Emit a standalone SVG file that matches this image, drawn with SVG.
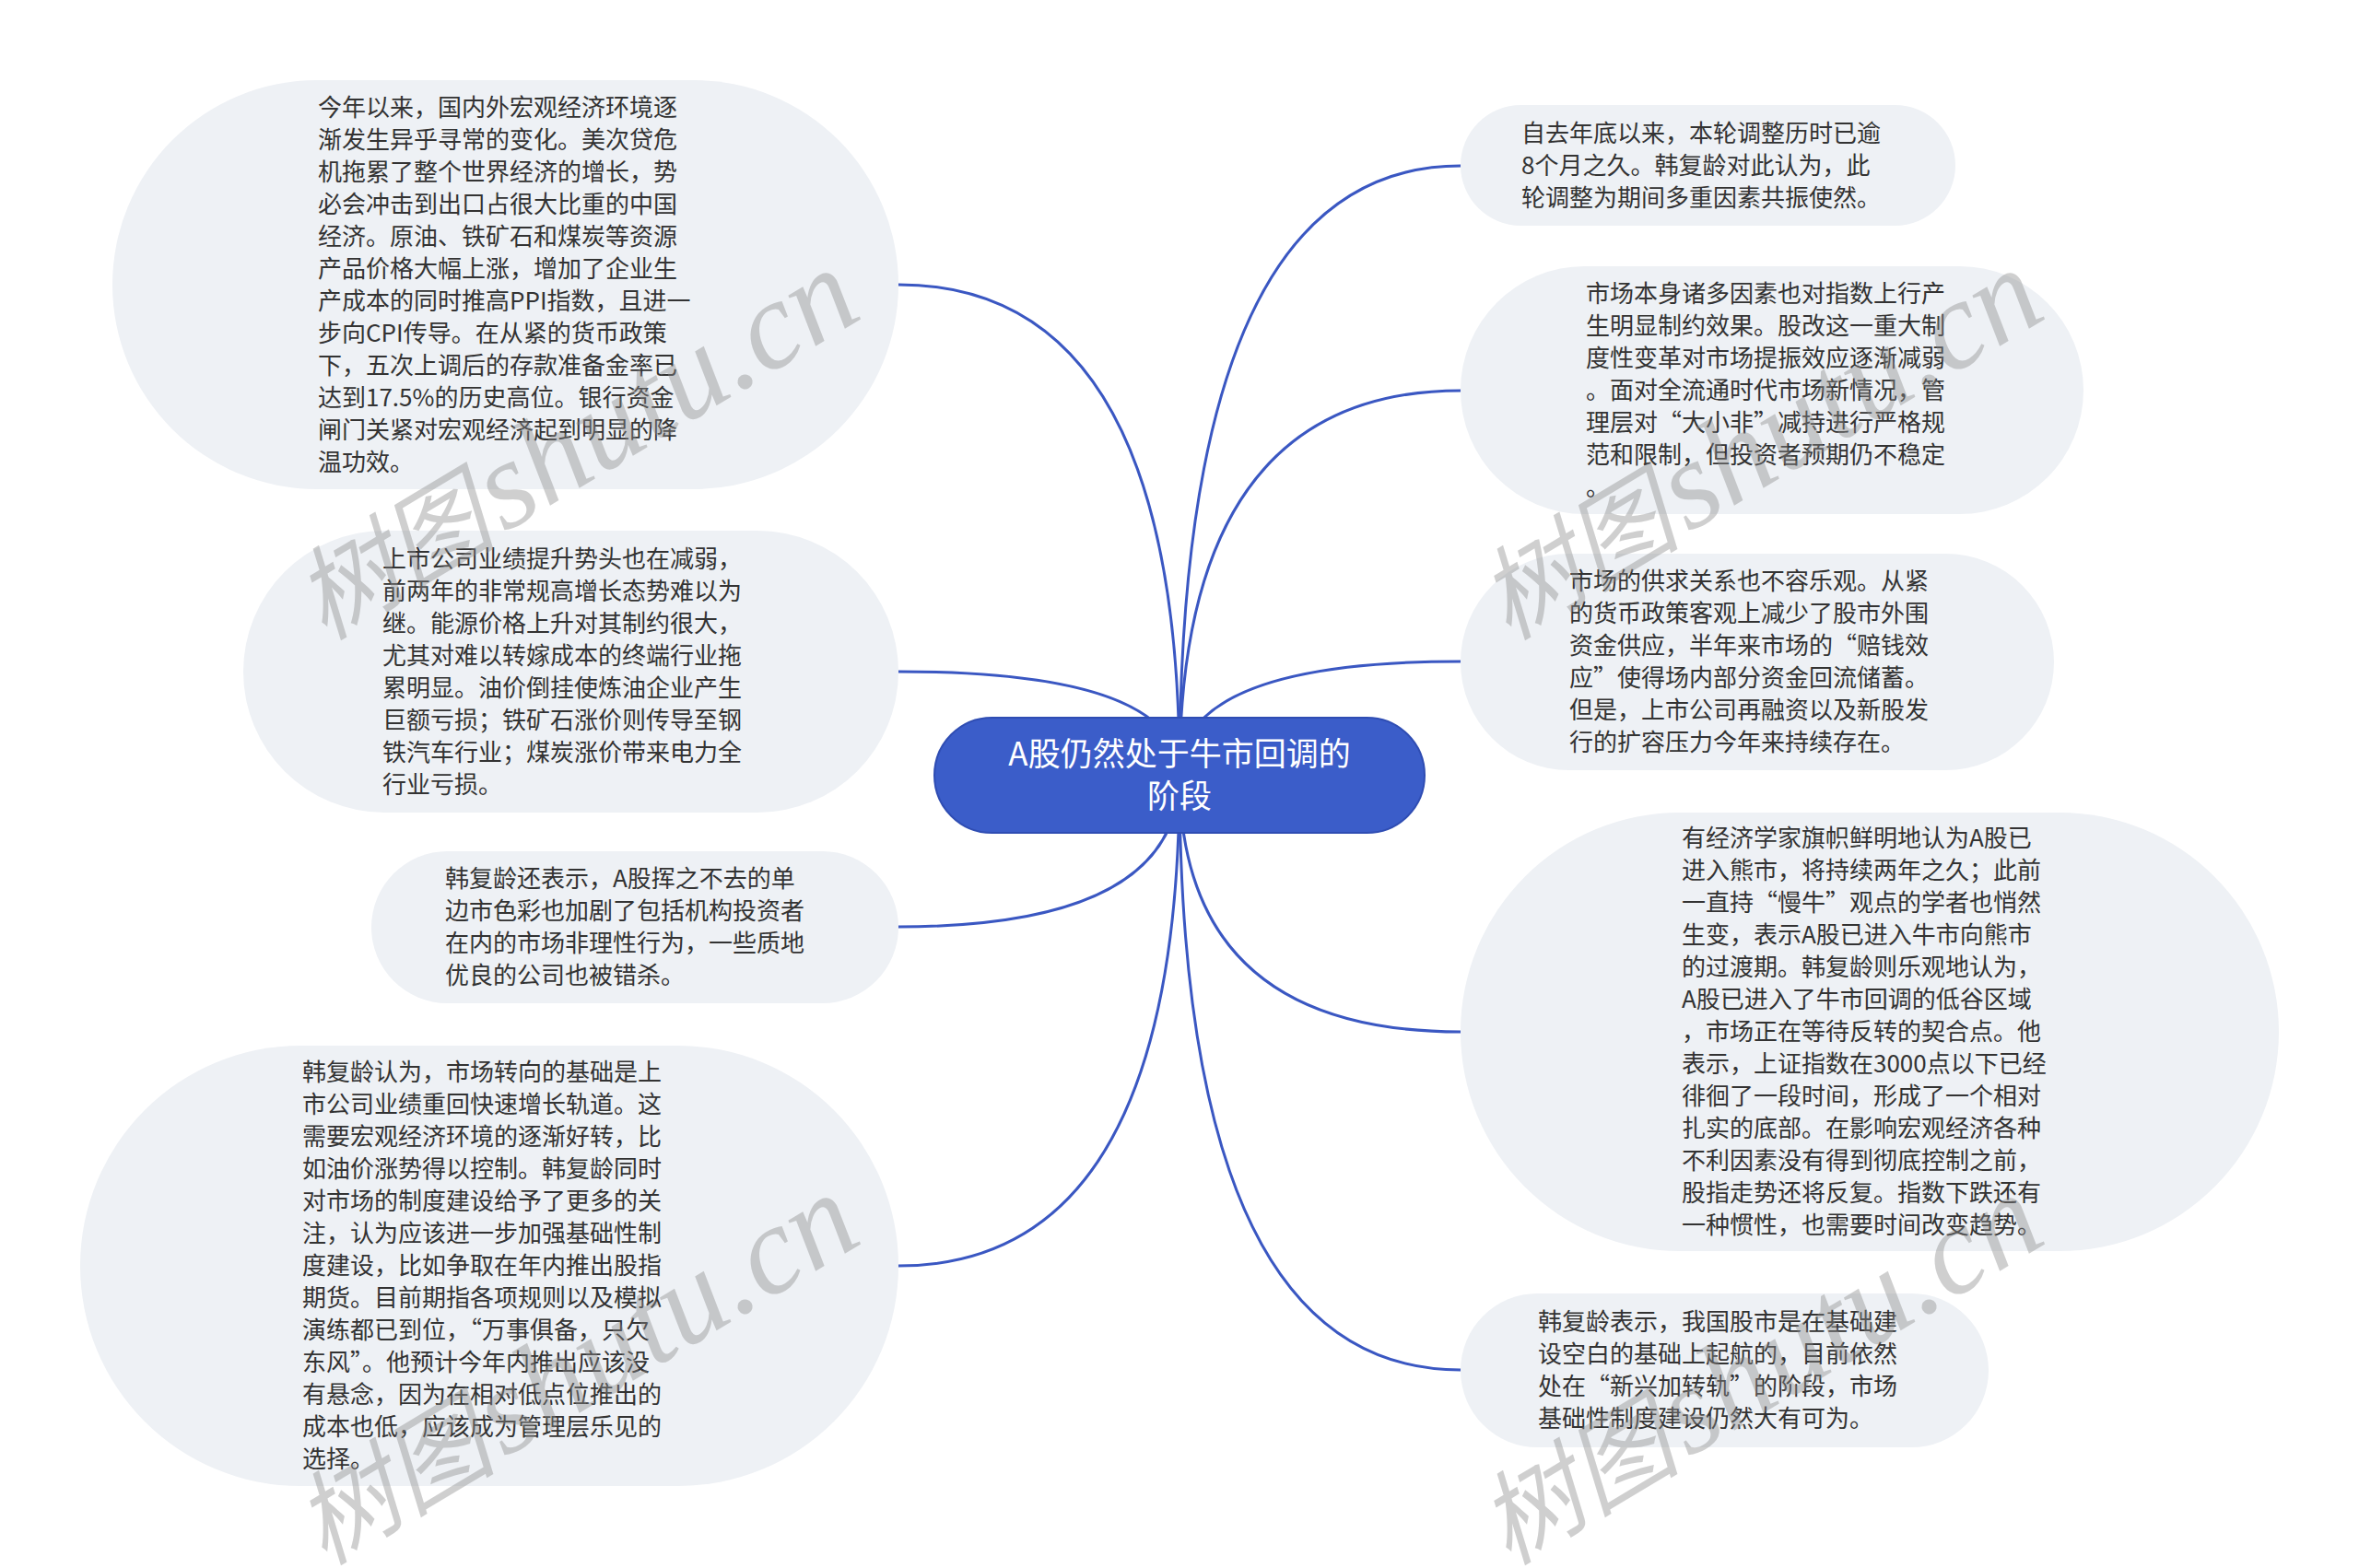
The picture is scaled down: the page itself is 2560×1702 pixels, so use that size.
<svg xmlns="http://www.w3.org/2000/svg" width="2560" height="1702" viewBox="0 0 2560 1702">
<style>
.bub{fill:#eef1f5;}
.txt{font-family:"Noto Sans CJK SC","Microsoft YaHei",sans-serif;font-size:26px;fill:#333333;}
.conn{fill:none;stroke:#3a57c2;stroke-width:3;}
.root{fill:#3b5dc9;stroke:#2f4db3;stroke-width:2;}
.rtxt{font-family:"Noto Sans CJK SC",sans-serif;font-size:35px;fill:#ffffff;text-anchor:middle;}
.wm{font-family:"Liberation Serif","Noto Sans CJK SC",serif;font-style:italic;font-size:110px;fill:#8a8a8a;opacity:0.4;}
.wml{font-size:136px;}
</style>
<rect x="0" y="0" width="2560" height="1702" fill="#ffffff"/>
<g id="connectors">
<path class="conn" d="M1280 841 Q1280 309 975 309"/>
<path class="conn" d="M1280 841 Q1280 729 975 729"/>
<path class="conn" d="M1280 841 Q1280 1006 975 1006"/>
<path class="conn" d="M1280 841 Q1280 1374 975 1374"/>
<path class="conn" d="M1280 841 Q1280 180 1585 180"/>
<path class="conn" d="M1280 841 Q1280 424 1585 424"/>
<path class="conn" d="M1280 841 Q1280 718 1585 718"/>
<path class="conn" d="M1280 841 Q1280 1120 1585 1120"/>
<path class="conn" d="M1280 841 Q1280 1487 1585 1487"/>
</g>
<g id="root">
<rect class="root" x="1014" y="779" width="532" height="125" rx="62.5"/>
<text class="rtxt" x="1280" y="831">A股仍然处于牛市回调的<tspan x="1280" dy="46">阶段</tspan></text>
</g>
<g id="L1">
<rect class="bub" x="122" y="87" width="853" height="444" rx="222"/>
<text class="txt" x="345" y="126"><tspan x="345">今年以来，国内外宏观经济环境逐</tspan><tspan x="345" dy="35">渐发生异乎寻常的变化。美次贷危</tspan><tspan x="345" dy="35">机拖累了整个世界经济的增长，势</tspan><tspan x="345" dy="35">必会冲击到出口占很大比重的中国</tspan><tspan x="345" dy="35">经济。原油、铁矿石和煤炭等资源</tspan><tspan x="345" dy="35">产品价格大幅上涨，增加了企业生</tspan><tspan x="345" dy="35">产成本的同时推高PPI指数，且进一</tspan><tspan x="345" dy="35">步向CPI传导。在从紧的货币政策</tspan><tspan x="345" dy="35">下，五次上调后的存款准备金率已</tspan><tspan x="345" dy="35">达到17.5%的历史高位。银行资金</tspan><tspan x="345" dy="35">闸门关紧对宏观经济起到明显的降</tspan><tspan x="345" dy="35">温功效。</tspan></text>
</g>
<g id="L2">
<rect class="bub" x="264" y="576" width="711" height="306" rx="153"/>
<text class="txt" x="415" y="616"><tspan x="415">上市公司业绩提升势头也在减弱，</tspan><tspan x="415" dy="35">前两年的非常规高增长态势难以为</tspan><tspan x="415" dy="35">继。能源价格上升对其制约很大，</tspan><tspan x="415" dy="35">尤其对难以转嫁成本的终端行业拖</tspan><tspan x="415" dy="35">累明显。油价倒挂使炼油企业产生</tspan><tspan x="415" dy="35">巨额亏损；铁矿石涨价则传导至钢</tspan><tspan x="415" dy="35">铁汽车行业；煤炭涨价带来电力全</tspan><tspan x="415" dy="35">行业亏损。</tspan></text>
</g>
<g id="L3">
<rect class="bub" x="403" y="924" width="572" height="165" rx="82.5"/>
<text class="txt" x="483" y="963"><tspan x="483">韩复龄还表示，A股挥之不去的单</tspan><tspan x="483" dy="35">边市色彩也加剧了包括机构投资者</tspan><tspan x="483" dy="35">在内的市场非理性行为，一些质地</tspan><tspan x="483" dy="35">优良的公司也被错杀。</tspan></text>
</g>
<g id="L4">
<rect class="bub" x="87" y="1135" width="888" height="478" rx="239"/>
<text class="txt" x="328" y="1173"><tspan x="328">韩复龄认为，市场转向的基础是上</tspan><tspan x="328" dy="35">市公司业绩重回快速增长轨道。这</tspan><tspan x="328" dy="35">需要宏观经济环境的逐渐好转，比</tspan><tspan x="328" dy="35">如油价涨势得以控制。韩复龄同时</tspan><tspan x="328" dy="35">对市场的制度建设给予了更多的关</tspan><tspan x="328" dy="35">注，认为应该进一步加强基础性制</tspan><tspan x="328" dy="35">度建设，比如争取在年内推出股指</tspan><tspan x="328" dy="35">期货。目前期指各项规则以及模拟</tspan><tspan x="328" dy="35">演练都已到位，“万事俱备，只欠</tspan><tspan x="328" dy="35">东风”。他预计今年内推出应该没</tspan><tspan x="328" dy="35">有悬念，因为在相对低点位推出的</tspan><tspan x="328" dy="35">成本也低，应该成为管理层乐见的</tspan><tspan x="328" dy="35">选择。</tspan></text>
</g>
<g id="R1">
<rect class="bub" x="1585" y="114" width="537" height="131" rx="65.5"/>
<text class="txt" x="1651" y="154"><tspan x="1651">自去年底以来，本轮调整历时已逾</tspan><tspan x="1651" dy="35">8个月之久。韩复龄对此认为，此</tspan><tspan x="1651" dy="35">轮调整为期间多重因素共振使然。</tspan></text>
</g>
<g id="R2">
<rect class="bub" x="1585" y="289" width="676" height="269" rx="134.5"/>
<text class="txt" x="1721" y="328"><tspan x="1721">市场本身诸多因素也对指数上行产</tspan><tspan x="1721" dy="35">生明显制约效果。股改这一重大制</tspan><tspan x="1721" dy="35">度性变革对市场提振效应逐渐减弱</tspan><tspan x="1721" dy="35">。面对全流通时代市场新情况，管</tspan><tspan x="1721" dy="35">理层对“大小非”减持进行严格规</tspan><tspan x="1721" dy="35">范和限制，但投资者预期仍不稳定</tspan><tspan x="1721" dy="35">。</tspan></text>
</g>
<g id="R3">
<rect class="bub" x="1585" y="601" width="644" height="235" rx="117.5"/>
<text class="txt" x="1703" y="640"><tspan x="1703">市场的供求关系也不容乐观。从紧</tspan><tspan x="1703" dy="35">的货币政策客观上减少了股市外围</tspan><tspan x="1703" dy="35">资金供应，半年来市场的“赔钱效</tspan><tspan x="1703" dy="35">应”使得场内部分资金回流储蓄。</tspan><tspan x="1703" dy="35">但是，上市公司再融资以及新股发</tspan><tspan x="1703" dy="35">行的扩容压力今年来持续存在。</tspan></text>
</g>
<g id="R4">
<rect class="bub" x="1585" y="882" width="888" height="476" rx="238"/>
<text class="txt" x="1825" y="919"><tspan x="1825">有经济学家旗帜鲜明地认为A股已</tspan><tspan x="1825" dy="35">进入熊市，将持续两年之久；此前</tspan><tspan x="1825" dy="35">一直持“慢牛”观点的学者也悄然</tspan><tspan x="1825" dy="35">生变，表示A股已进入牛市向熊市</tspan><tspan x="1825" dy="35">的过渡期。韩复龄则乐观地认为，</tspan><tspan x="1825" dy="35">A股已进入了牛市回调的低谷区域</tspan><tspan x="1825" dy="35">，市场正在等待反转的契合点。他</tspan><tspan x="1825" dy="35">表示，上证指数在3000点以下已经</tspan><tspan x="1825" dy="35">徘徊了一段时间，形成了一个相对</tspan><tspan x="1825" dy="35">扎实的底部。在影响宏观经济各种</tspan><tspan x="1825" dy="35">不利因素没有得到彻底控制之前，</tspan><tspan x="1825" dy="35">股指走势还将反复。指数下跌还有</tspan><tspan x="1825" dy="35">一种惯性，也需要时间改变趋势。</tspan></text>
</g>
<g id="R5">
<rect class="bub" x="1585" y="1404" width="573" height="167" rx="83.5"/>
<text class="txt" x="1669" y="1444"><tspan x="1669">韩复龄表示，我国股市是在基础建</tspan><tspan x="1669" dy="35">设空白的基础上起航的，目前依然</tspan><tspan x="1669" dy="35">处在“新兴加转轨”的阶段，市场</tspan><tspan x="1669" dy="35">基础性制度建设仍然大有可为。</tspan></text>
</g>
<g id="watermarks">
<text class="wm" transform="translate(352 696) rotate(-31)">树图<tspan class="wml" dx="8">shutu.cn</tspan></text>
<text class="wm" transform="translate(1637 696) rotate(-31)">树图<tspan class="wml" dx="8">shutu.cn</tspan></text>
<text class="wm" transform="translate(352 1700) rotate(-31)">树图<tspan class="wml" dx="8">shutu.cn</tspan></text>
<text class="wm" transform="translate(1637 1700) rotate(-31)">树图<tspan class="wml" dx="8">shutu.cn</tspan></text>
</g>
</svg>
